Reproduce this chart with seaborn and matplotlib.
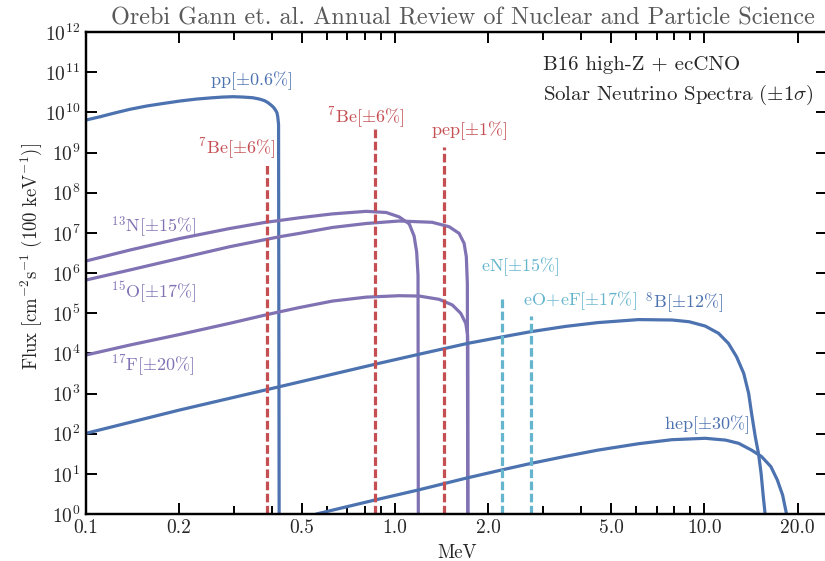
import matplotlib
matplotlib.use("Agg")
import matplotlib.pyplot as plt
from matplotlib.ticker import NullLocator, NullFormatter
import seaborn as sns

# Continuous spectra: neutrino energy [MeV] and flux
pp_energy = [0.1, 0.111, 0.1225, 0.1387, 0.157, 0.1775, 0.201, 0.2277, 0.257, 0.2772, 0.299, 0.3218,
             0.346, 0.3641, 0.378, 0.3877, 0.397, 0.4044, 0.410, 0.4145, 0.417, 0.4195, 0.4215]
pp_flux = [6.43e9, 7.76e9, 9.44e9, 1.19e10, 1.435e10, 1.66e10, 1.91e10, 2.14e10, 2.31e10, 2.40e10,
           2.45e10, 2.40e10, 2.31e10, 2.14e10, 1.95e10, 1.74e10, 1.51e10, 1.32e10, 1.14e10, 9.77e9,
           7.76e9, 5.0e9, 0.1]

n13_energy = [0.1, 0.1387, 0.201, 0.2914, 0.3779, 0.4901, 0.6264, 0.8064, 0.9354, 1.030, 1.110,
              1.151, 1.173, 1.185, 1.188]
n13_flux = [1.99e6, 3.73e6, 7.21e6, 1.28e7, 1.81e7, 2.37e7, 2.96e7, 3.43e7, 3.21e7, 2.49e7, 1.67e7,
            8.3e6, 3.33e6, 8.9e5, 0.1]

o15_energy = [0.1, 0.1387, 0.201, 0.2914, 0.4226, 0.4901, 0.6264, 0.8064, 1.030, 1.316, 1.494,
              1.609, 1.670, 1.698, 1.711, 1.717]
o15_flux = [6.68e5, 1.19e6, 2.32e6, 4.51e6, 8.0e6, 9.7e6, 1.36e7, 1.71e7, 1.97e7, 1.83e7, 1.42e7,
            9.7e6, 5.48e6, 2.54e6, 5.53e5, 0.1]

f17_energy = [0.1, 0.1387, 0.201, 0.2914, 0.3779, 0.4226, 0.4901, 0.6264, 0.8064, 1.030, 1.195,
              1.387, 1.530, 1.629, 1.691, 1.714, 1.717, 1.719]
f17_flux = [9.08e3, 1.61e4, 2.95e4, 5.58e4, 8.91e4, 1.08e5, 1.38e5, 2.0e5, 2.51e5, 2.72e5, 2.67e5,
            2.21e5, 1.60e5, 9.9e4, 5.58e4, 2.86e4, 1.46e4, 0.1]

b8_energy = [0.1, 0.201, 0.4226, 0.862, 1.19, 1.72, 2.22, 2.75, 3.55, 4.52, 6.12, 7.85, 8.92, 10.05,
             11.1, 11.95, 12.7, 13.4, 13.9, 14.2, 14.6, 14.95, 15.25, 15.5, 15.7, 15.8]
b8_flux = [102, 389, 1479, 5370, 9440, 17780, 25700, 34670, 46770, 58210, 69180, 67610, 61240, 47860,
           31620, 17780, 8240, 3162, 1000, 324, 84.1, 32.4, 10.2, 2.69, 1.05, 0.1]

hep_energy = [0.556, 0.862, 1.19, 1.69, 2.22, 2.75, 3.55, 4.52, 6.12, 7.85, 10.05, 11.7, 12.9, 14.2,
              15.3, 16.4, 17.2, 17.9, 18.4, 18.5]
hep_flux = [1.0, 2.24, 3.98, 7.76, 12.6, 18.2, 27.2, 38.9, 56.2, 70.8, 76.7, 69.2, 57.5, 38.9, 26.9,
            15.1, 7.08, 2.95, 1.05, 0.1]

# Monoenergetic lines: energy [MeV] and flux
line_energy = [0.384, 0.862, 1.44, 2.22, 2.75]
line_flux = [4.9e8, 4.4e9, 1.4e9, 2.2e5, 8.7e4]

# Labels: text, energy, flux position
label_text = [r"$\mathrm{pp}[\pm0.6\%]$", r"$^{7}\mathrm{Be}[\pm6\%]$", r"$^{7}\mathrm{Be}[\pm6\%]$",
              r"$\mathrm{pep}[\pm1\%]$", r"$^{13}\mathrm{N}[\pm15\%]$", r"$^{15}\mathrm{O}[\pm17\%]$",
              r"$^{17}\mathrm{F}[\pm20\%]$", r"$\mathrm{eN}[\pm15\%]$", r"$\mathrm{eO\!+\!eF}[\pm17\%]$",
              r"$^{8}\mathrm{B}[\pm12\%]$", r"$\mathrm{hep}[\pm30\%]$"]
label_energy = [0.341, 0.307, 0.80, 1.73, 0.166, 0.166, 0.164, 2.53, 3.97, 8.62, 10.19]
label_flux = [6.0e10, 1.29e9, 7.6e9, 3.6e9, 1.38e7, 3.3e5, 5.1e3, 1.45e6, 2.1e5, 1.76e5, 164]

x_ticks = [0.1, 0.2, 0.5, 1.0, 2.0, 5.0, 10.0, 20.0]
x_tick_labels = ["0.1", "0.2", "0.5", "1.0", "2.0", "5.0", "10.0", "20.0"]
x_minor_ticks = [0.3, 0.4, 0.6, 0.7, 0.8, 0.9, 3, 4, 6, 7, 8, 9]

sns.set_style("ticks")
plt.rcParams.update({
    "font.family": ["cmr10"],
    "mathtext.fontset": "cm",
    "axes.formatter.use_mathtext": True,
    "axes.unicode_minus": False,
})

deep = sns.color_palette("deep")
blue, red, purple, cyan = deep[0], deep[3], deep[4], deep[9]

fig = plt.figure(figsize=(8.25, 5.61), dpi=100)
ax = fig.add_axes([86 / 825, 1 - 514 / 561, 741.5 / 825, 482 / 561])
ax.set_xscale("log")
ax.set_yscale("log")

lw = 2.3
curves = [(pp_energy, pp_flux, blue), (n13_energy, n13_flux, purple), (o15_energy, o15_flux, purple),
          (f17_energy, f17_flux, purple), (b8_energy, b8_flux, blue), (hep_energy, hep_flux, blue)]
for e, f, c in curves:
    sns.lineplot(x=e, y=f, ax=ax, color=c, lw=lw, estimator=None, sort=False)

line_colors = [red, red, red, cyan, cyan]
for e, f, c in zip(line_energy, line_flux, line_colors):
    sns.lineplot(x=[e, e], y=[1.0, f], ax=ax, color=c, lw=lw, estimator=None, sort=False,
                 linestyle=(0, (2.7, 1.1)))

label_colors = [blue, red, red, red, purple, purple, purple, cyan, cyan, blue, blue]
for t, e, f, c in zip(label_text, label_energy, label_flux, label_colors):
    ax.text(e, f, t, color=c, fontsize=13, ha="center", va="center")

ax.set_xlim(0.1, 25)
ax.set_ylim(1, 1e12)
ax.set_xticks(x_ticks, labels=x_tick_labels)
ax.set_xticks(x_minor_ticks, minor=True)
ax.xaxis.set_minor_formatter(NullFormatter())
ax.set_yticks([10.0 ** k for k in range(13)])
ax.yaxis.set_minor_locator(NullLocator())

ax.tick_params(which="both", direction="in", top=True, right=True, labelsize=14, width=1.4, color="black")
ax.tick_params(which="major", length=7.7, pad=4)
ax.tick_params(which="minor", length=5.5)
for s in ax.spines.values():
    s.set_linewidth(1.75)
    s.set_color("black")

ax.set_xlabel("MeV", fontsize=13.5)
ax.xaxis.set_label_coords(0.5, -0.081)
ax.xaxis.label.set_va("center")
ax.set_ylabel(r"$\mathrm{Flux\ [cm^{-2}s^{-1}\ (100\ keV^{-1})]}$", fontsize=13.5)
ax.yaxis.set_label_coords(-0.0742, 0.535)
ax.yaxis.label.set_va("center")

fig.text(463 / 825, 1 - 18 / 561, "Orebi Gann et. al. Annual Review of Nuclear and Particle Science",
         ha="center", va="center", color="0.35", fontsize=17.5)
fig.text(543.3 / 825, 1 - 65 / 561, "B16 high-Z + ecCNO", ha="left", va="center", fontsize=15)
fig.text(543.3 / 825, 1 - 95 / 561, r"Solar Neutrino Spectra ($\pm1\sigma$)", ha="left", va="center",
         fontsize=15)

fig.savefig("out.png", dpi=100)
